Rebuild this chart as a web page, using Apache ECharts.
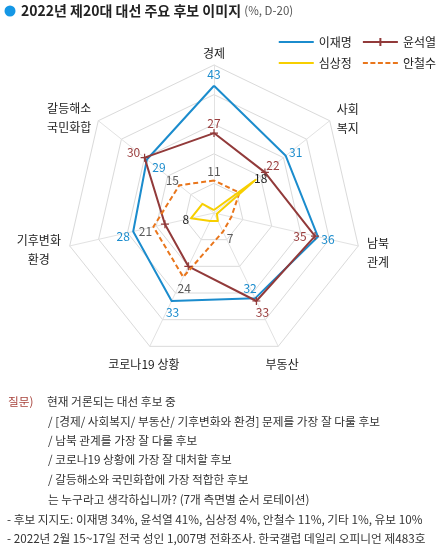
<!DOCTYPE html>
<html>
<head>
<meta charset="utf-8">
<script src="https://cdn.jsdelivr.net/npm/echarts@6/dist/echarts.min.js"></script>
<style>
html,body{margin:0;padding:0;background:#fff;}
#c{width:441px;height:553px;}
</style>
</head>
<body>
<div id="c"></div>
<script>
// ---- data (axes listed clockwise from the top) ----
const axisNames = ['경제', '사회\n복지', '남북\n관계', '부동산', '코로나19 상황', '기후변화\n환경', '갈등해소\n국민화합'];
const candidates = ['이재명', '윤석열', '심상정', '안철수'];
const leeJaeMyung = [43, 31, 36, 32, 33, 28, 29];
const yoonSukYeol = [27, 22, 35, 33, 20, 17, 30];
const simSangJung = [1, 18, 1, 3, 3, 8, 5];
const ahnCheolSoo = [11, 11, 6, 7, 24, 21, 15];
const axisMax = 50;

// ---- style ----
const FONT = "'Noto Sans CJK KR', 'Noto Sans', sans-serif";
const COLORS = { '이재명': '#1b8ccd', '윤석열': '#923a3a', '심상정': '#f7cf00', '안철수': '#e9761c' };
const LABEL_COLORS = { '이재명': '#1b8ccd', '윤석열': '#9a3e3e', '심상정': '#222222', '안철수': '#5a5a5a' };
// label offsets from the vertex (null = no label), clockwise axis order
const LABEL_OFFSETS = {
  '이재명': [[0, -11], [10, -3], [10, 3], [-5, -10], [1, 11], [-10, 5], [12, 8]],
  '윤석열': [[0, -10], [8, -7], [-15, 0], [6, 11], null, null, [-11, -5]],
  '심상정': [null, [5, -1], null, null, null, [-5, 1], null],
  '안철수': [[0, -9], null, null, [7, 7], [1, 11], [-8, 5], [-7, -5]]
};
// axis-name text placement tweaks, clockwise axis order
const NAME_STYLES = [
  { verticalAlign: 'middle', padding: [0, 0, 5, 0] },
  { padding: [7, 0, 0, 0] },
  { padding: [10, 0, 0, 0] },
  { align: 'center', verticalAlign: 'top' },
  { align: 'center', verticalAlign: 'top', padding: [0, 4, 0, 0] },
  { padding: [4, 0, 0, 0] },
  { padding: [6, 0, 0, 0] }
];
const seriesValues = { '이재명': leeJaeMyung, '윤석열': yoonSukYeol, '심상정': simSangJung, '안철수': ahnCheolSoo };

// ECharts places indicators counter-clockwise; remap so the chart reads clockwise
const order = axisNames.map((_, i) => (axisNames.length - i) % axisNames.length);

function makeRich(name) {
  const rich = {};
  LABEL_OFFSETS[name].forEach((off, i) => {
    if (!off) return;
    const dx = off[0], dy = off[1];
    rich['o' + i] = {
      color: LABEL_COLORS[name], fontSize: 12, fontFamily: FONT,
      padding: [Math.max(0, 2 * dy), Math.max(0, -2 * dx), Math.max(0, -2 * dy), Math.max(0, 2 * dx)]
    };
  });
  return rich;
}

function makeItem(name) {
  const vals = order.map(i => seriesValues[name][i]);
  const isYoon = name === '윤석열';
  return {
    name: name,
    value: vals,
    symbol: isYoon ? 'path://M0,3.4H8V4.6H0Z M3.4,0H4.6V8H3.4Z' : 'circle',
    symbolSize: isYoon ? 8 : 0,
    itemStyle: { color: COLORS[name] },
    lineStyle: { color: COLORS[name], width: 2, type: name === '안철수' ? [5, 3] : 'solid' },
    label: {
      show: true,
      position: 'inside',
      color: LABEL_COLORS[name],
      fontSize: 12,
      fontFamily: FONT,
      formatter: function (p) {
        let dim = p.dimensionIndex;
        if (dim == null) dim = vals.indexOf(p.value);
        const orig = order[dim];
        if (!LABEL_OFFSETS[name][orig]) return '';
        return '{o' + orig + '|' + p.value + '}';
      },
      rich: makeRich(name)
    }
  };
}

const indicator = order.map(i => ({
  name: axisNames[i], min: 0, max: axisMax, nameTextStyle: NAME_STYLES[i]
}));

const lineIcon = 'path://M0,0H33V2H0Z';
const plusIcon = 'path://M0,3H35V5H0Z M16.5,0H18.5V8H16.5Z';
const dashIcon = 'path://M0,0H5V2H0Z M7.5,0H12.5V2H7.5Z M15,0H20V2H15Z M22.5,0H27.5V2H22.5Z M30,0H35V2H30Z';

const legendCommon = {
  right: 5, padding: 0, itemWidth: 35, itemHeight: 8, itemGap: 11,
  selectedMode: false,
  itemStyle: { borderWidth: 0 },
  textStyle: { fontSize: 12, color: '#222', fontFamily: FONT }
};

const option = {
  backgroundColor: '#ffffff',
  animation: false,
  legend: [
    Object.assign({}, legendCommon, {
      top: 36,
      data: [
        { name: '이재명', icon: lineIcon, itemStyle: { color: COLORS['이재명'], borderWidth: 0 } },
        { name: '윤석열', icon: plusIcon, itemStyle: { color: COLORS['윤석열'], borderWidth: 0 } }
      ]
    }),
    Object.assign({}, legendCommon, {
      top: 57,
      data: [
        { name: '심상정', icon: lineIcon, itemStyle: { color: COLORS['심상정'], borderWidth: 0 } },
        { name: '안철수', icon: dashIcon, itemStyle: { color: COLORS['안철수'], borderWidth: 0 } }
      ]
    })
  ],
  radar: {
    center: [214, 213],
    radius: 148,
    startAngle: 90,
    splitNumber: 5,
    shape: 'polygon',
    nameGap: 9,
    axisNameGap: 9,
    axisName: {
      color: '#222',
      fontSize: 12,
      fontFamily: FONT,
      lineHeight: 19,
      formatter: function (n) {
        return n.split('\n').map(s => '{n|' + s + '}').join('\n');
      },
      rich: { n: { align: 'center', fontSize: 12, fontFamily: FONT, color: '#222', lineHeight: 19 } }
    },
    splitLine: { lineStyle: { color: '#dadada', width: 1 } },
    splitArea: { show: false },
    axisLine: { lineStyle: { color: '#e2e2e2', width: 1 } },
    axisTick: { show: false },
    axisLabel: { show: false },
    indicator: indicator
  },
  series: [{
    type: 'radar',
    emphasis: { disabled: true },
    data: ['이재명', '윤석열', '안철수', '심상정'].map(makeItem)
  }],
  graphic: [
    { type: 'circle', shape: { cx: 10, cy: 11, r: 5.5 }, style: { fill: '#1597e5' } },
    { type: 'text', style: { x: 21, y: 11, verticalAlign: 'middle',
        text: '{a|2022년 제20대 대선 주요 후보 이미지} {b|(%, D-20)}',
        rich: {
          a: { fontSize: 14, fontWeight: 'bold', fontFamily: FONT, fill: '#222' },
          b: { fontSize: 11.5, fontFamily: FONT, fill: '#555' }
        } } },
    { type: 'text', style: { x: 8, y: 401.7, verticalAlign: 'middle', text: '질문)', fill: '#a8433c', font: '11.7px ' + FONT } }
  ]
};

const qLines = [
  '현재 거론되는 대선 후보 중',
  '/ [경제/ 사회복지/ 부동산/ 기후변화와 환경] 문제를 가장 잘 다룰 후보',
  '/ 남북 관계를 가장 잘 다룰 후보',
  '/ 코로나19 상황에 가장 잘 대처할 후보',
  '/ 갈등해소와 국민화합에 가장 적합한 후보',
  '는 누구라고 생각하십니까? (7개 측면별 순서 로테이션)'
];
const noteLines = [
  '- 후보 지지도: 이재명 34%, 윤석열 41%, 심상정 4%, 안철수 11%, 기타 1%, 유보 10%',
  '- 2022년 2월 15~17일 전국 성인 1,007명 전화조사. 한국갤럽 데일리 오피니언 제483호'
];
const lineY = [401.7, 421.7, 441, 460, 479.3, 499.3, 519.3, 538.3];
qLines.forEach((t, i) => {
  option.graphic.push({ type: 'text', style: { x: i === 0 ? 47 : 48, y: lineY[i], verticalAlign: 'middle', text: t, fill: '#333', font: '11.7px ' + FONT } });
});
noteLines.forEach((t, i) => {
  option.graphic.push({ type: 'text', style: { x: 7, y: lineY[6 + i], verticalAlign: 'middle', text: t, fill: '#333', font: '11.7px ' + FONT } });
});

const chart = echarts.init(document.getElementById('c'));
chart.setOption(option);
</script>
</body>
</html>
